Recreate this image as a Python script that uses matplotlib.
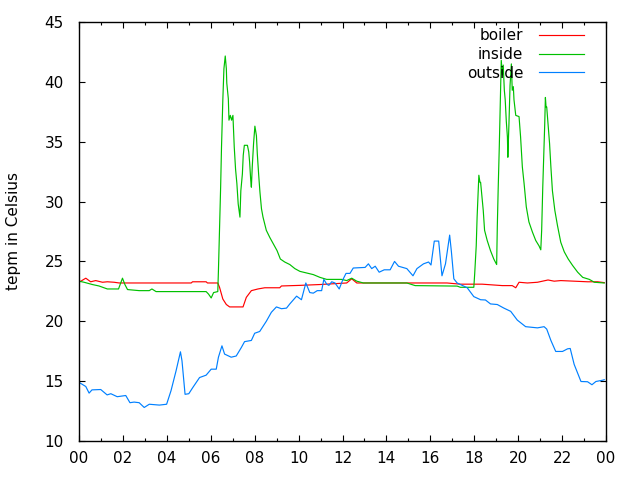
import matplotlib
matplotlib.use('Agg')
import matplotlib.pyplot as plt
from matplotlib.ticker import MultipleLocator

# hours since midnight, temperature in Celsius
outside_t = [0.00, 0.31, 0.46, 0.59, 0.99, 1.28, 1.45, 1.74, 2.13, 2.32, 2.51, 2.74, 2.97, 3.20,
             3.66, 3.99, 4.19, 4.42, 4.62, 4.69, 4.83, 5.00, 5.18, 5.49, 5.79, 6.02, 6.25, 6.35,
             6.51, 6.63, 6.93, 7.16, 7.39, 7.54, 7.85, 8.00, 8.23, 8.53, 8.76, 8.99, 9.22, 9.45,
             9.60, 9.91, 10.13, 10.33, 10.51, 10.67, 10.85, 11.05, 11.15, 11.28, 11.38, 11.51,
             11.66, 11.85, 12.01, 12.16, 12.34, 12.49, 13.03, 13.18, 13.33, 13.49, 13.67, 13.90,
             14.17, 14.37, 14.55, 14.93, 15.21, 15.39, 15.69, 15.92, 16.03, 16.18, 16.38, 16.53,
             16.69, 16.88, 16.96, 17.07, 17.22, 17.68, 17.98, 18.29, 18.51, 18.74, 19.05, 19.35,
             19.66, 19.96, 20.34, 20.88, 21.18, 21.30, 21.49, 21.71, 22.02, 22.25, 22.37, 22.55,
             22.86, 23.16, 23.36, 23.54, 23.85, 23.92]
outside_v = [14.9, 14.55, 14.0, 14.27, 14.3, 13.85, 13.95, 13.7, 13.8, 13.2, 13.25, 13.2, 12.8, 13.07,
             13.0, 13.07, 14.2, 15.86, 17.45, 16.7, 13.9, 13.95, 14.46, 15.3, 15.5, 16.0, 16.0, 17.0,
             17.95, 17.26, 17.0, 17.1, 17.8, 18.3, 18.4, 19.0, 19.15, 20.0, 20.75, 21.2, 21.05, 21.1,
             21.45, 22.1, 21.8, 23.2, 22.4, 22.35, 22.56, 22.56, 23.5, 23.1, 23.0, 23.3,
             23.2, 22.7, 23.45, 24.0, 24.0, 24.45, 24.5, 24.8, 24.4, 24.6, 24.1, 24.3,
             24.3, 25.0, 24.6, 24.4, 23.8, 24.4, 24.8, 24.95, 24.7, 26.7, 26.7, 23.8,
             24.8, 27.2, 25.8, 23.55, 23.2, 22.8, 22.06, 21.8, 21.78, 21.45, 21.4, 21.1,
             20.83, 20.1, 19.55, 19.45, 19.55, 19.35, 18.4, 17.48, 17.48, 17.7, 17.73, 16.4,
             14.97, 14.95, 14.7, 14.97, 15.08, 15.12]

boiler_t = [0.00, 0.31, 0.53, 0.76, 1.07, 1.29, 1.60, 1.83, 5.11, 5.17, 5.79, 5.85, 6.32, 6.40,
            6.55, 6.71, 6.86, 7.47, 7.62, 7.85, 8.15, 8.46, 9.14, 9.22, 10.06, 10.97, 12.19,
            12.42, 12.65, 13.94, 16.76, 17.37, 18.36, 19.28, 19.73, 19.89, 20.04, 20.42, 20.88,
            21.36, 21.64, 21.94, 22.55, 23.16, 23.62, 23.92]
boiler_v = [23.26, 23.6, 23.3, 23.4, 23.26, 23.3, 23.26, 23.2, 23.2, 23.3, 23.3, 23.2, 23.2, 22.84,
            21.86, 21.4, 21.2, 21.2, 22.0, 22.56, 22.7, 22.8, 22.8, 22.95, 23.0, 23.07, 23.2,
            23.55, 23.2, 23.2, 23.2, 23.1, 23.1, 22.98, 22.98, 22.8, 23.26, 23.2, 23.26,
            23.45, 23.35, 23.4, 23.35, 23.3, 23.3, 23.23]

inside_t = [0.00, 0.23, 0.61, 0.91, 1.29, 1.80, 1.91, 1.98, 2.09, 2.21, 2.74, 3.20, 3.32, 3.51,
            5.79, 5.90, 6.02, 6.13, 6.32, 6.35, 6.40, 6.45, 6.49, 6.55, 6.60, 6.66, 6.71, 6.73,
            6.80, 6.83, 6.89, 6.95, 7.01, 7.07, 7.13, 7.19, 7.25, 7.33, 7.37, 7.44, 7.48, 7.53,
            7.67, 7.73, 7.77, 7.82, 7.85, 7.89, 7.95, 8.01, 8.08, 8.12, 8.18, 8.24, 8.31, 8.38,
            8.53, 8.69, 8.84, 9.02, 9.17, 9.37, 9.60, 9.83, 10.06, 10.36, 10.67, 10.97, 11.28,
            11.96, 12.19, 12.42, 12.65, 12.95, 14.93, 15.31, 17.22, 17.37, 17.98, 18.02, 18.09,
            18.13, 18.21, 18.26, 18.29, 18.35, 18.41, 18.47, 18.59, 18.74, 18.89, 19.02, 19.05,
            19.09, 19.14, 19.19, 19.23, 19.28, 19.32, 19.37, 19.41, 19.46, 19.51, 19.53, 19.58,
            19.63, 19.69, 19.73, 19.78, 19.81, 19.89, 20.04, 20.11, 20.19, 20.27, 20.37, 20.49,
            20.65, 20.80, 20.95, 21.03, 21.07, 21.12, 21.17, 21.21, 21.24, 21.27, 21.30, 21.36,
            21.43, 21.49, 21.56, 21.67, 21.79, 21.94, 22.10, 22.28, 22.48, 22.71, 22.94, 23.24,
            23.47, 23.92]
inside_v = [23.35, 23.26, 23.07, 22.95, 22.7, 22.7, 23.26, 23.6, 23.07, 22.65, 22.56, 22.56, 22.7, 22.48,
            22.48, 22.27, 21.95, 22.4, 22.48, 24.24, 27.6, 31.2, 34.56, 38.5, 41.1, 42.16, 41.1, 39.9,
            38.6, 36.8, 37.2, 36.8, 37.2, 34.56, 32.7, 31.5, 29.8, 28.7, 30.9, 32.3, 33.87, 34.7,
            34.7, 34.15, 33.3, 31.8, 31.2, 32.9, 34.85, 36.3, 35.5, 34.0, 32.3, 30.8, 29.4, 28.7,
            27.6, 27.0, 26.5, 25.9, 25.2, 24.95, 24.74, 24.4, 24.17, 24.04, 23.9, 23.67, 23.5,
            23.5, 23.4, 23.6, 23.35, 23.2, 23.2, 22.98, 22.94, 22.84, 22.84, 23.96, 26.3,
            28.7, 32.2, 31.6, 31.6, 30.4, 29.26, 27.6, 26.75, 25.9, 25.2, 24.74, 27.9,
            31.07, 34.56, 38.5, 41.8, 40.57, 41.4, 39.3, 38.5, 36.7, 35.4, 33.7, 36.5,
            39.7, 41.5, 39.3, 39.6, 38.5, 37.2, 37.1, 35.4, 32.9, 31.5, 29.56, 28.3,
            27.45, 26.75, 26.3, 25.97, 27.6, 31.2, 34.0, 36.5, 38.7, 37.9, 37.9, 36.5,
            34.85, 32.9, 30.9, 29.26, 28.0, 26.6, 25.8, 25.2, 24.66, 24.1, 23.67, 23.5,
            23.26, 23.2]

xticks = list(range(0, 25, 2))
xticklabels = ['%02d' % (h % 24) for h in xticks]

plt.rcParams['font.family'] = 'DejaVu Sans'
fig = plt.figure(figsize=(6.4, 4.8), dpi=100)
ax = fig.add_axes([79 / 640, 1 - 441 / 480, (606 - 79) / 640, (441 - 22) / 480])

ax.plot(boiler_t, boiler_v, color='#ff0000', lw=0.85, label='boiler')
ax.plot(inside_t, inside_v, color='#00c000', lw=0.85, label='inside')
ax.plot(outside_t, outside_v, color='#0080ff', lw=0.85, label='outside')

ax.set_xlim(0, 24)
ax.set_ylim(10, 45)
ax.set_xticks(xticks)
ax.set_xticklabels(xticklabels)
ax.xaxis.set_minor_locator(MultipleLocator(1))
ax.set_yticks(range(10, 46, 5))
ax.tick_params(which='both', direction='in', top=True, right=True, labelsize=11, color='black')
ax.tick_params(which='major', length=4.5, width=0.8)
ax.tick_params(which='minor', length=2.5, width=0.8)
ax.tick_params(axis='x', pad=7)
ax.tick_params(axis='y', pad=11)
for s in ax.spines.values():
    s.set_linewidth(1.0)
ax.set_ylabel('tepm in Celsius', fontsize=11, labelpad=17)

ax.legend(loc='upper right', frameon=False, markerfirst=False, fontsize=11,
          handlelength=3.0, handletextpad=1.0, labelspacing=0.25,
          bbox_to_anchor=(0.985, 1.018))

fig.savefig('out.png', dpi=100)
